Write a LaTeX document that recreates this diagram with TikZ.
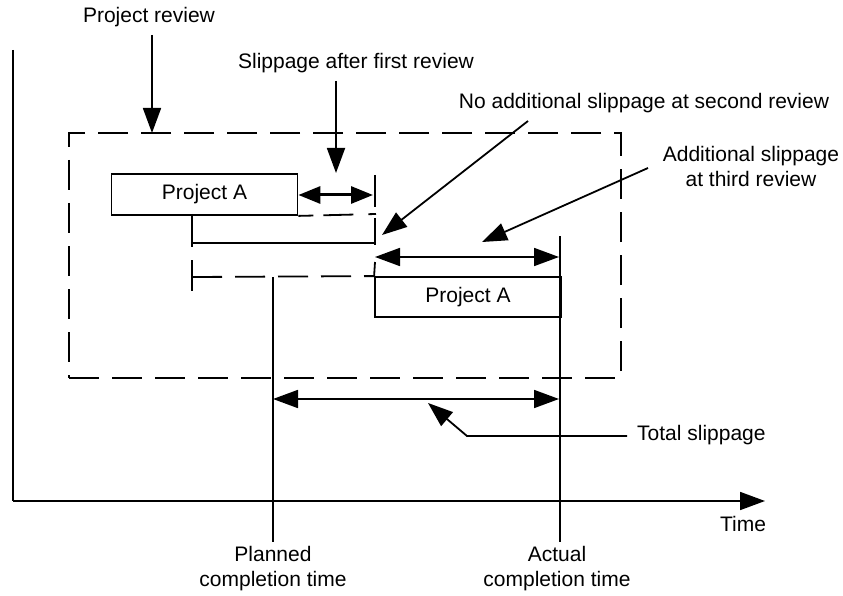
\documentclass[tikz,border=0pt]{standalone}
\usepackage{fontspec}
\setmainfont{Liberation Sans}
\usetikzlibrary{arrows.meta}
\tikzset{
  ln/.style={line width=1.8pt, line cap=butt},
  bigtip/.tip={Triangle[length=25pt,width=18pt]},
  fatarrow/.style={line width=3pt, {Triangle[length=22pt,width=17pt]}-{Triangle[length=22pt,width=17pt]}},
  longdash/.style={ln, dash pattern=on 30pt off 13pt},
  box/.style={draw, ln, inner sep=0pt, minimum width=186pt},
  lbl/.style={inner sep=0pt, align=center, font=\fontsize{21}{25}\selectfont},
}
\begin{document}
\begin{tikzpicture}[x=1pt,y=-1pt]
\useasboundingbox (0,0) rectangle (843,596);

% axes
\coordinate (ytop) at (13,50);
\coordinate (org) at (13,501);
\coordinate (xend) at (765,501);
\draw[ln] (ytop) -- (org);
\draw[ln,-bigtip] (org) -- (xend);
\node[lbl] (time) at (743,524) {Time};

% review frame
\node[draw, longdash, minimum width=552pt, minimum height=245pt, inner sep=0pt] (frame) at (345,255.5) {};

% bars
\node[box, minimum height=41pt, lbl] (A1) at (204.5,194.5) {Project A};
\node[box, minimum height=40pt, lbl] (A2) at (468,297) {Project A};

% planned / actual completion lines
\coordinate (p0) at (273,277);
\coordinate (p1) at (273,542);
\coordinate (q0) at (560,236);
\coordinate (q1) at (560,542);
\draw[ln] (p0) -- (p1);
\draw[ln] (q0) -- (q1);
\node[lbl] (planned) at (273,569) {Planned\\completion time};
\node[lbl] (actual) at (557,569) {Actual\\completion time};

% first review: slip arrow and end tick
\coordinate (s1e) at (373,195);
\draw[fatarrow] (A1.east |- s1e) -- (s1e);
\coordinate (t1a) at (375,175);
\coordinate (t1b) at (375,207);
\draw[ln] (t1a) -- (t1b);
\coordinate (d1e) at (376,214);
\draw[ln, dash pattern=on 15pt off 10pt on 30pt off 15pt] (A1.south east) -- (d1e);

% second review: solid bar with ticks
\coordinate (b2s) at (192,243);
\coordinate (b2e) at (375,243);
\draw[ln] (b2s) -- (b2e);
\coordinate (t2a) at (192,214);
\coordinate (t2b) at (192,247);
\draw[ln] (t2a) -- (t2b);
\coordinate (t3a) at (375,218);
\coordinate (t3b) at (375,245);
\draw[ln] (t3a) -- (t3b);

% third review: dashed planned bar and slip
\coordinate (b3s) at (192,277);
\draw[longdash] (b3s) -- (A2.north west);
\coordinate (t4a) at (192,260);
\coordinate (t4b) at (192,291);
\draw[ln] (t4a) -- (t4b);
\coordinate (t5a) at (375,262);
\draw[ln] (t5a) -- (A2.north west);
\coordinate (s3s) at (375,257);
\coordinate (s3e) at (559,257);
\draw[ln, bigtip-bigtip] (s3s) -- (s3e);

% total slippage
\coordinate (tss) at (273,399);
\coordinate (tse) at (559,399);
\draw[ln, bigtip-bigtip] (tss) -- (tse);

% labels and pointers
\node[lbl] (rev) at (149,17) {Project review};
\coordinate (revtip) at (152,133);
\draw[ln,-bigtip] (rev.south -| revtip) ++(0,8) -- (revtip);

\node[lbl] (slip1) at (356,63) {Slippage after first review};
\coordinate (s1f) at (336,81);
\coordinate (s1tip) at (336,173);
\draw[ln,-bigtip] (s1f) -- (s1tip);

\node[lbl] (slip2) at (644,103) {No additional slippage at second review};
\coordinate (s2f) at (528,121);
\coordinate (s2tip) at (382,235);
\draw[ln,-bigtip] (s2f) -- (s2tip);

\node[lbl] (slip3) at (751,166) {Additional slippage\\at third review};
\coordinate (s3f) at (648,168);
\coordinate (s3tip) at (482,242);
\draw[ln,-bigtip] (s3f) -- (s3tip);

\node[lbl, anchor=west] (total) at (637,435) {Total slippage};
\coordinate (tf) at (627,436);
\coordinate (tk) at (467,436);
\coordinate (ttip) at (428,403);
\draw[ln,-bigtip] (tf) -- (tk) -- (ttip);
\end{tikzpicture}
\end{document}
